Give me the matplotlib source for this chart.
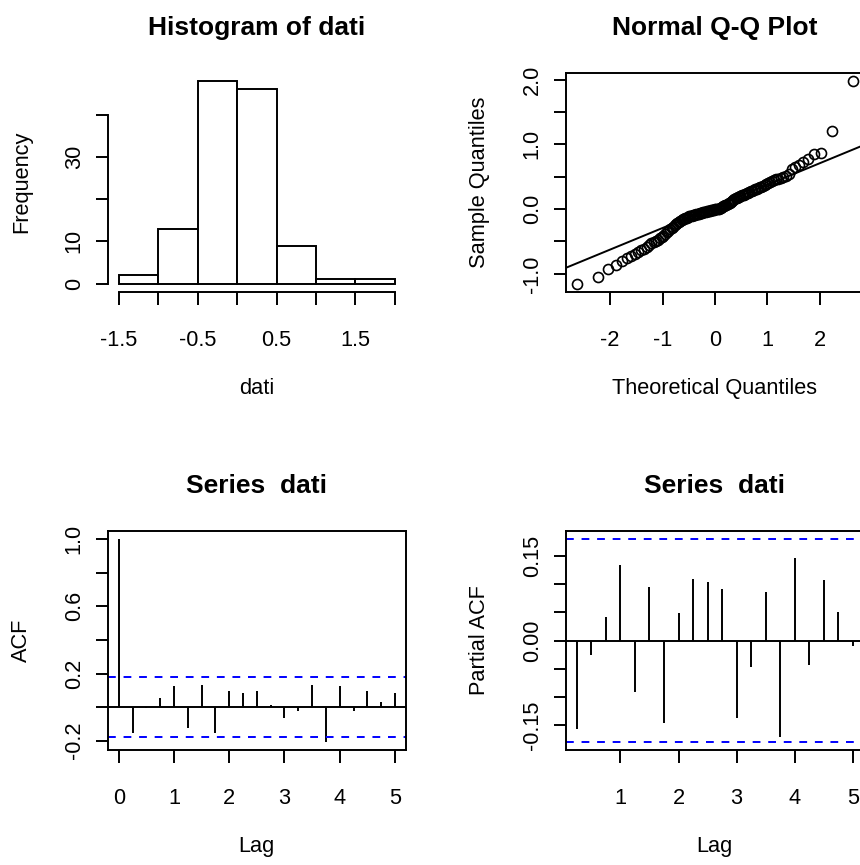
import matplotlib
matplotlib.use("Agg")
import matplotlib.pyplot as plt
import numpy as np
from statistics import NormalDist

plt.rcParams['font.family'] = ['Liberation Sans', 'DejaVu Sans']

# ---------------- data ----------------
# sorted sample values of "dati" (n = 120), read from the Q-Q plot / histogram
sample = np.array([
    -1.15, -1.05, -0.93, -0.87, -0.80, -0.76, -0.72, -0.69, -0.66, -0.63,
    -0.61, -0.58, -0.555, -0.53, -0.51, -0.49, -0.475, -0.45, -0.43, -0.41,
    -0.385, -0.36, -0.34, -0.315, -0.29, -0.27, -0.25, -0.235, -0.215, -0.195,
    -0.18, -0.17, -0.16, -0.15, -0.14, -0.13, -0.12, -0.11, -0.105, -0.10,
    -0.095, -0.09, -0.085, -0.08, -0.075, -0.07, -0.065, -0.06, -0.055, -0.05,
    -0.045, -0.04, -0.035, -0.03, -0.028, -0.025, -0.02, -0.015, -0.01, -0.008,
    -0.005, -0.004, -0.002, 0.005, 0.01, 0.02, 0.03, 0.04, 0.05, 0.06,
    0.07, 0.08, 0.09, 0.10, 0.11, 0.125, 0.14, 0.155, 0.165, 0.175,
    0.18, 0.19, 0.20, 0.21, 0.215, 0.225, 0.235, 0.245, 0.255, 0.262,
    0.275, 0.285, 0.295, 0.305, 0.315, 0.325, 0.335, 0.345, 0.36, 0.375,
    0.39, 0.40, 0.415, 0.43, 0.445, 0.46, 0.47, 0.48, 0.495, 0.51,
    0.54, 0.62, 0.65, 0.68, 0.73, 0.78, 0.85, 0.865, 1.20, 1.98,
])

hist_breaks = [-1.5, -1.0, -0.5, 0.0, 0.5, 1.0, 1.5, 2.0]

acf_lags = np.arange(21) / 4
acf_values = [1.0, -0.156, -0.003, 0.053, 0.123, -0.127, 0.133, -0.156, 0.094, 0.082,
              0.094, 0.014, -0.064, -0.025, 0.133, -0.207, 0.123, -0.025, 0.094, 0.033,
              0.082]

pacf_lags = np.arange(1, 21) / 4
pacf_values = [-0.157, -0.026, 0.042, 0.133, -0.091, 0.094, -0.145, 0.048, 0.109, 0.103,
               0.091, -0.137, -0.047, 0.085, -0.170, 0.145, -0.043, 0.106, 0.051, -0.010]

# tick labels
hist_xticks = [-1.5, -1.0, -0.5, 0.0, 0.5, 1.0, 1.5, 2.0]
hist_xlabels = ['-1.5', '', '-0.5', '', '0.5', '', '1.5', '']
hist_yticks = [0, 10, 20, 30, 40]
hist_ylabels = ['0', '10', '', '30', '']
qq_xticks = [-2, -1, 0, 1, 2]
qq_xlabels = ['-2', '-1', '0', '1', '2']
qq_yticks = [-1.0, -0.5, 0.0, 0.5, 1.0, 1.5, 2.0]
qq_ylabels = ['-1.0', '', '0.0', '', '1.0', '', '2.0']
acf_xticks = [0, 1, 2, 3, 4, 5]
acf_xlabels = ['0', '1', '2', '3', '4', '5']
acf_yticks = [-0.2, 0.0, 0.2, 0.4, 0.6, 0.8, 1.0]
acf_ylabels = ['-0.2', '', '0.2', '', '0.6', '', '1.0']
pacf_xticks = [1, 2, 3, 4, 5]
pacf_xlabels = ['1', '2', '3', '4', '5']
pacf_yticks = [-0.15, -0.10, -0.05, 0.0, 0.05, 0.10, 0.15]
pacf_ylabels = ['-0.15', '', '', '0.00', '', '', '0.15']

# ---------------- style ----------------
W, H = 860, 865
LW = 1.4
TICK_FS = 15.7
TITLE_FS = 19.0
AX_W, AX_H = 298.3, 219.0
XTICK_PAD = 18.5
YTICK_PAD = 7.5

fig = plt.figure(figsize=(W / 100, H / 100), dpi=100)
fig.patch.set_facecolor('white')


def add_ax(left_px, top_px):
    return fig.add_axes([left_px / W, 1 - (top_px + AX_H) / H, AX_W / W, AX_H / H])


def rlim(lo, hi):
    d = (hi - lo) * 0.04
    return lo - d, hi + d


def style(ax, xt, xl, yt, yl, title, xlab, ylab, box=True):
    ax.set_xticks(xt)
    ax.set_xticklabels(xl)
    ax.set_yticks(yt)
    ax.set_yticklabels(yl)
    ax.tick_params(direction='out', length=9, width=LW, labelsize=TICK_FS, color='black')
    ax.tick_params(axis='x', pad=XTICK_PAD)
    ax.tick_params(axis='y', pad=YTICK_PAD)
    for lab in ax.get_yticklabels():
        lab.set_rotation(90)
        lab.set_va('center')
        lab.set_ha('right')
    for sp in ax.spines.values():
        sp.set_linewidth(LW)
        sp.set_visible(box)
    ax.text(0.5, 1 + 44.7 / AX_H, title, transform=ax.transAxes, ha='center', va='center',
            fontsize=TITLE_FS, fontweight='bold')
    ax.text(0.5, -96.6 / AX_H, xlab, transform=ax.transAxes, ha='center', va='center',
            fontsize=TICK_FS)
    ax.text(-86.3 / AX_W, 0.5, ylab, transform=ax.transAxes, ha='center', va='center',
            rotation=90, fontsize=TICK_FS)


LEFT1, LEFT2 = 107.7, 565.7
TOP1, TOP2 = 72.7, 531.0

# ---- Histogram ----
ax1 = add_ax(LEFT1, TOP1)
counts, _, _ = ax1.hist(sample, bins=hist_breaks, facecolor='white', edgecolor='black',
                        linewidth=LW)
ax1.set_xlim(*rlim(hist_breaks[0], hist_breaks[-1]))
ax1.set_ylim(*rlim(0, counts.max()))
style(ax1, hist_xticks, hist_xlabels, hist_yticks, hist_ylabels,
      'Histogram of dati', 'dati', 'Frequency', box=False)
ax1.spines['left'].set_visible(True)
ax1.spines['bottom'].set_visible(True)
ax1.spines['left'].set_bounds(hist_yticks[0], hist_yticks[-1])
ax1.spines['bottom'].set_bounds(hist_xticks[0], hist_xticks[-1])

# ---- Normal Q-Q ----
ax2 = add_ax(LEFT2, TOP1)
n = len(sample)
nd = NormalDist()
theo = np.array([nd.inv_cdf((i - 0.5) / n) for i in range(1, n + 1)])
ax2.plot(theo, np.sort(sample), linestyle='none', marker='o', markersize=7.2,
         markerfacecolor='none', markeredgecolor='black', markeredgewidth=1.2)
q1, q3 = np.quantile(sample, [0.25, 0.75])
t1, t3 = nd.inv_cdf(0.25), nd.inv_cdf(0.75)
slope = (q3 - q1) / (t3 - t1)
ax2.axline((t1, q1), slope=slope, color='black', linewidth=LW)
ax2.set_xlim(*rlim(theo.min(), theo.max()))
ax2.set_ylim(*rlim(sample.min(), sample.max()))
style(ax2, qq_xticks, qq_xlabels, qq_yticks, qq_ylabels,
      'Normal Q-Q Plot', 'Theoretical Quantiles', 'Sample Quantiles')

clim = 1.96 / np.sqrt(n)

# ---- ACF ----
ax3 = add_ax(LEFT1, TOP2)
ax3.vlines(acf_lags, 0, acf_values, color='black', linewidth=LW)
ax3.axhline(0, color='black', linewidth=LW)
for c in (clim, -clim):
    ax3.axhline(c, color='#0000FF', linewidth=LW, linestyle=(0, (4, 4)))
ax3.set_xlim(*rlim(acf_lags.min(), acf_lags.max()))
ax3.set_ylim(*rlim(min(min(acf_values), -clim), max(max(acf_values), clim)))
style(ax3, acf_xticks, acf_xlabels, acf_yticks, acf_ylabels,
      'Series  dati', 'Lag', 'ACF')

# ---- PACF ----
ax4 = add_ax(LEFT2, TOP2)
ax4.vlines(pacf_lags, 0, pacf_values, color='black', linewidth=LW)
ax4.axhline(0, color='black', linewidth=LW)
for c in (clim, -clim):
    ax4.axhline(c, color='#0000FF', linewidth=LW, linestyle=(0, (4, 4)))
ax4.set_xlim(*rlim(pacf_lags.min(), pacf_lags.max()))
ax4.set_ylim(*rlim(min(min(pacf_values), -clim), max(max(pacf_values), clim)))
style(ax4, pacf_xticks, pacf_xlabels, pacf_yticks, pacf_ylabels,
      'Series  dati', 'Lag', 'Partial ACF')

fig.savefig('out.png', dpi=100, facecolor='white')
